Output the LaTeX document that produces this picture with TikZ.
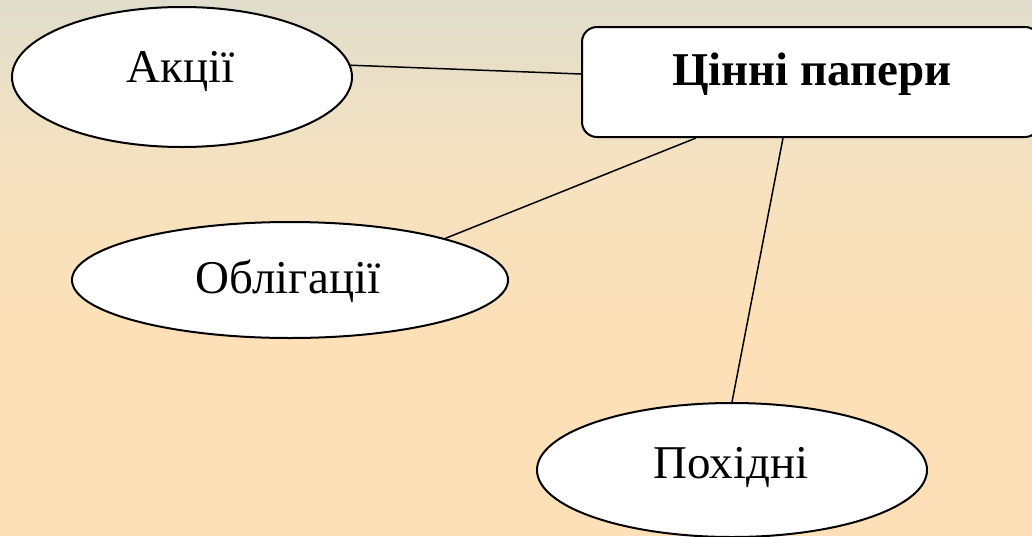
\documentclass[tikz,border=0pt]{standalone}
\usepackage{fontspec}
\setmainfont{Liberation Serif}
\usetikzlibrary{shapes.geometric,calc}
\definecolor{bgtop}{RGB}{224,221,204}
\definecolor{bgmid}{RGB}{246,226,192}
\definecolor{bgbot}{RGB}{253,224,183}
\begin{document}
\begin{tikzpicture}[x=1pt,y=-1pt,
  oval/.style={ellipse,draw,line width=2pt,fill=white,inner sep=0pt},
  card/.style={rectangle,rounded corners=15pt,draw,line width=2pt,fill=white,inner sep=0pt},
  lbl/.style={anchor=base,font=\fontsize{47}{56}\selectfont,inner sep=0pt},
  link/.style={line width=1.5pt}]
\useasboundingbox (0,0) rectangle (1032,536);
\clip (0,0) rectangle (1032,536);
\shade[top color=bgtop,bottom color=bgbot,middle color=bgmid] (0,0) rectangle (1032,340);
\fill[bgbot] (0,339) rectangle (1032,536);
% shapes
\node[card,minimum width=458pt,minimum height=110pt] (box) at (811,82) {};
\node[oval,minimum width=340pt,minimum height=140pt] (ak) at (182,77) {};
\node[oval,minimum width=436pt,minimum height=116pt] (ob) at (290,280) {};
\node[oval,minimum width=390pt,minimum height=134pt] (po) at (732,470) {};
% texts
\node[lbl,font=\fontsize{47}{56}\selectfont\bfseries] (tbox) at (812,85) {Цінні папери};
\node[lbl] (tak) at (181,82) {Акції};
\node[lbl] (tob) at (288,293) {Облігації};
\node[lbl] (tpo) at (731,478) {Похідні};
% connectors
\draw[link] (ak.4) -- ($(box.west)+(0,-8)$);
\draw[link] (ob.15) -- ($(box.south west)+(115,0)$);
\draw[link] (po.north) -- ($(box.south west)+(202,0)$);
\end{tikzpicture}
\end{document}
